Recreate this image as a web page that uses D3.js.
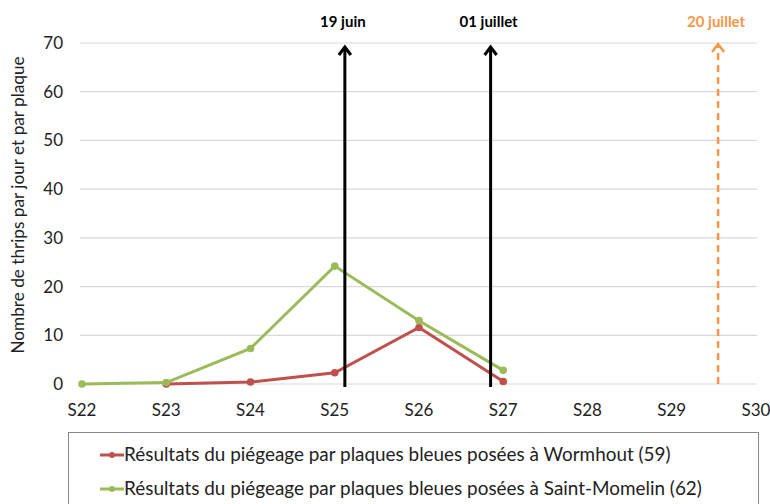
<!DOCTYPE html>
<html>
<head>
<meta charset="utf-8">
<script src="https://cdn.jsdelivr.net/npm/d3@7"></script>
<style>
body { margin: 0; background: #fff; }
text { font-family: Lato, "Open Sans", sans-serif; }
</style>
</head>
<body>
<script>
var w = 770;
var h = 504;

var weeks = ["S22", "S23", "S24", "S25", "S26", "S27", "S28", "S29", "S30"];
var wormhout = [null, 0, 0.4, 2.3, 11.6, 0.5, null, null, null];
var saintMomelin = [0, 0.3, 7.3, 24.2, 13, 2.8, null, null, null];
var yTicks = [0, 10, 20, 30, 40, 50, 60, 70];
var seriesNames = ["Résultats du piégeage par plaques bleues posées à Wormhout (59)",
                   "Résultats du piégeage par plaques bleues posées à Saint-Momelin (62)"];
var seriesColors = ["#C0504D", "#9BBB59"];
// dates expressed as a position on the week axis
var dateLabels = ["19 juin", "01 juillet", "20 juillet"];
var datePos = [25.12, 26.85, 29.55];
var dateColors = ["#000", "#000", "#F79646"];

var svg = d3.select("body")
    .append("svg")
    .attr("width", w)
    .attr("height", h);

var x = d3.scalePoint().domain(weeks).range([82, 756]);
var xNum = d3.scaleLinear().domain([22, 30]).range([82, 756]);
var y = d3.scaleLinear().domain([0, 70]).range([384, 43]);

// grid
svg.selectAll("line.grid")
    .data(yTicks)
    .enter()
    .append("line")
    .attr("x1", 80)
    .attr("x2", 757)
    .attr("y1", function(d){ return y(d); })
    .attr("y2", function(d){ return y(d); })
    .attr("stroke", "#D9D9D9")
    .attr("stroke-width", 1.2);

// y labels
svg.selectAll("text.ylab")
    .data(yTicks)
    .enter()
    .append("text")
    .text(function(d){ return d; })
    .attr("x", 63)
    .attr("y", function(d){ return y(d) + 6; })
    .attr("text-anchor", "end")
    .attr("font-size", 17)
    .attr("fill", "#222");

// x labels
svg.selectAll("text.xlab")
    .data(weeks)
    .enter()
    .append("text")
    .text(function(d){ return d; })
    .attr("x", function(d){ return x(d); })
    .attr("y", 416)
    .attr("text-anchor", "middle")
    .attr("font-size", 17)
    .attr("fill", "#222");

svg.append("text")
    .text("Nombre de thrips par jour et par plaque")
    .attr("transform", "translate(24,205) rotate(-90)")
    .attr("text-anchor", "middle")
    .attr("font-size", 17.2)
    .attr("fill", "#222");

// series
var series = [wormhout, saintMomelin];
var line = d3.line()
    .defined(function(d){ return d != null; })
    .x(function(d, i){ return x(weeks[i]); })
    .y(function(d){ return y(d); });

series.forEach(function(s, k){
    svg.append("path")
        .attr("d", line(s))
        .attr("fill", "none")
        .attr("stroke", seriesColors[k])
        .attr("stroke-width", 3);
    svg.selectAll("circle.s" + k)
        .data(s.map(function(v, i){ return {v: v, i: i}; }).filter(function(d){ return d.v != null; }))
        .enter()
        .append("circle")
        .attr("cx", function(d){ return x(weeks[d.i]); })
        .attr("cy", function(d){ return y(d.v); })
        .attr("r", 3.8)
        .attr("fill", seriesColors[k]);
});

// date arrows
dateLabels.forEach(function(lbl, i){
    var ax = xNum(datePos[i]);
    var top = i == 2 ? 44 : 47;
    svg.append("line")
        .attr("x1", ax)
        .attr("x2", ax)
        .attr("y1", i == 2 ? 384 : 387)
        .attr("y2", top + 2)
        .attr("stroke", dateColors[i])
        .attr("stroke-width", i == 2 ? 2.5 : 3)
        .attr("stroke-dasharray", i == 2 ? "7,5" : null);
    svg.append("path")
        .attr("d", "M" + (ax - 6) + "," + (top + 8) + " L" + ax + "," + top + " L" + (ax + 6) + "," + (top + 8))
        .attr("fill", "none")
        .attr("stroke", dateColors[i])
        .attr("stroke-width", i == 2 ? 2.5 : 3);
    svg.append("text")
        .text(lbl)
        .attr("x", ax - 2)
        .attr("y", 27)
        .attr("text-anchor", "middle")
        .attr("font-size", 15)
        .attr("font-weight", "bold")
        .attr("fill", dateColors[i]);
});

// legend
svg.append("rect")
    .attr("x", 68.5)
    .attr("y", 432.5)
    .attr("width", 690)
    .attr("height", 80)
    .attr("fill", "none")
    .attr("stroke", "#888")
    .attr("stroke-width", 1);

seriesNames.forEach(function(name, k){
    var ly = 455 + k * 34;
    svg.append("line")
        .attr("x1", 100).attr("x2", 124)
        .attr("y1", ly).attr("y2", ly)
        .attr("stroke", seriesColors[k])
        .attr("stroke-width", 3);
    svg.append("circle")
        .attr("cx", 112).attr("cy", ly).attr("r", 3)
        .attr("fill", seriesColors[k]);
    svg.append("text")
        .text(name)
        .attr("x", 124)
        .attr("y", ly + 6)
        .attr("font-size", 18.9)
        .attr("fill", "#222");
});
</script>
</body>
</html>
